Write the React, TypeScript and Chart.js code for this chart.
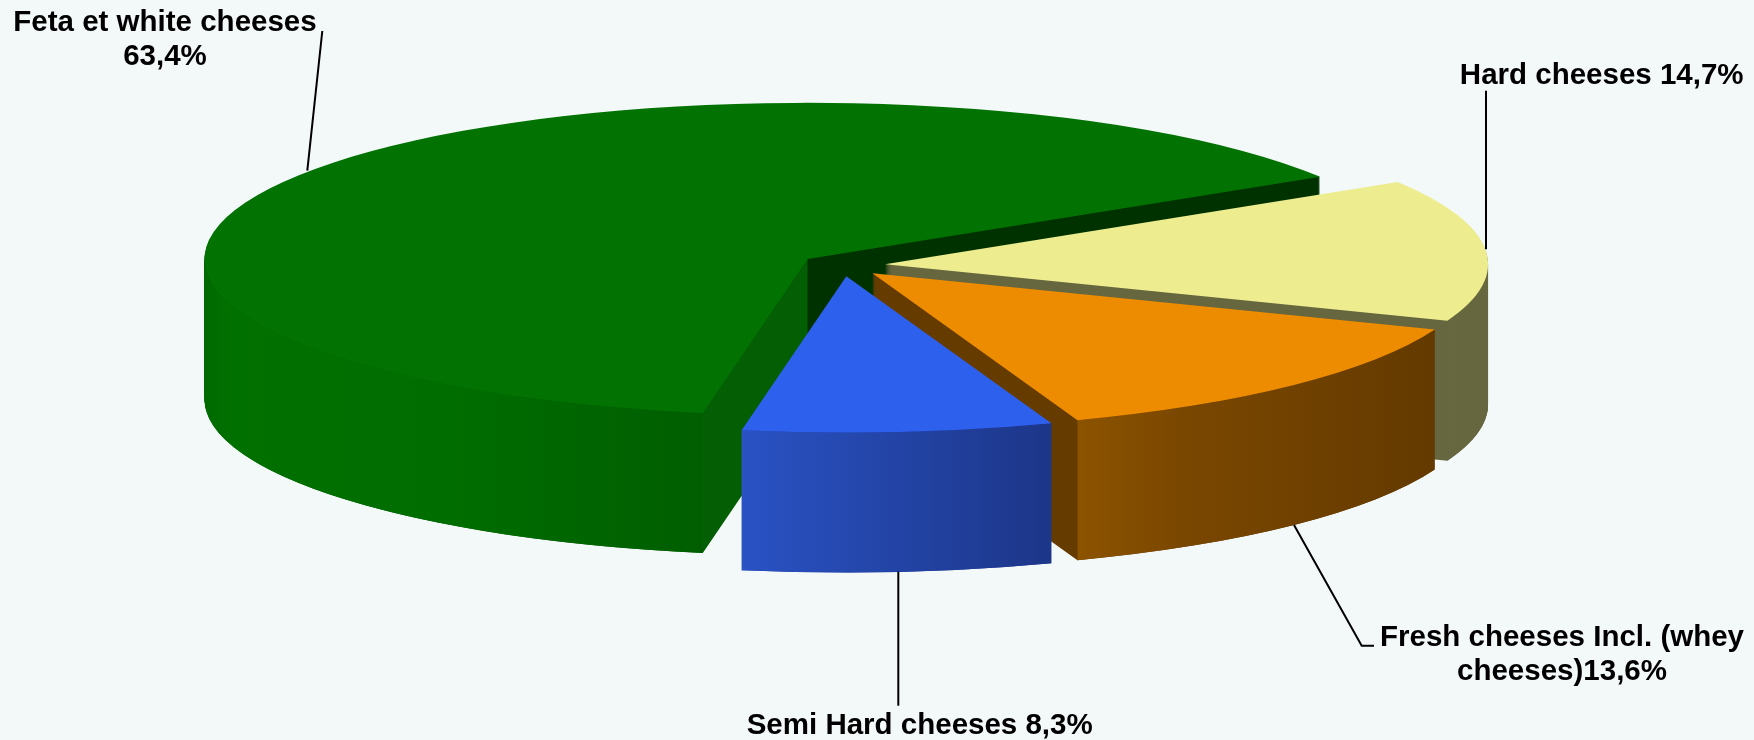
import React, { useEffect, useRef } from 'react';
import { Chart, registerables } from 'chart.js';

Chart.register(...registerables);

// ---- data ----
const CATEGORIES = ['Feta et white cheeses', 'Hard cheeses', 'Fresh cheeses Incl. (whey cheeses)', 'Semi Hard cheeses'];
const SHARES = [63.4, 14.7, 13.6, 8.3];

// ---- styles ----
const TOP_COLORS = ['#027302', '#EDED8F', '#EE8C00', '#2E60EE'];
const FACE_COLORS = [
  ['#045f04', '#003200'],
  ['#66663f', '#66663f'],
  ['#653b00', '#653b00'],
  ['#1e3a9a', '#1e3a9a'],
];
const WALL_STOPS: [number, string][][] = [
  [[0, '#006a00'], [0.05, '#007000'], [0.5, '#006d00'], [1, '#005e00']],
  [[0, '#67683f'], [1, '#66663f']],
  [[0, '#8c5300'], [0.3, '#7a4700'], [1, '#643a00']],
  [[0, '#2a52c4'], [1, '#1c3688']],
];
const BG = '#F3F8F9';
const FONT = 'bold 29.5px "Liberation Sans", Arial, sans-serif';

// ---- projection (relative to the pie radius Chart.js computes) ----
const STRETCH_X = 2.273;
const STRETCH_Y = 0.589;
const EXPLODE_RATIO = 0.0705;
const DEPTH_RATIO = 0.528;

const fmt = (v: number) => v.toFixed(1).replace('.', ',') + '%';

const pie3d = {
  id: 'pie3d',
  beforeDraw(chart: any) {
    const ctx = chart.ctx;
    ctx.save();
    ctx.fillStyle = BG;
    ctx.fillRect(0, 0, chart.width, chart.height);
    ctx.restore();
  },
  beforeDatasetsDraw(chart: any) {
    const ctx = chart.ctx as CanvasRenderingContext2D;
    const arcs = chart.getDatasetMeta(0).data;
    if (!arcs.length) return false;
    const R = arcs[0].outerRadius;
    const rx = R * STRETCH_X;
    const ry = R * STRETCH_Y;
    const depth = Math.round(R * DEPTH_RATIO);
    const ex = R * EXPLODE_RATIO * STRETCH_X;
    const ey = R * EXPLODE_RATIO * STRETCH_X * (ry / rx);
    const slices = arcs.map((arc: any, i: number) => {
      const mid = (arc.startAngle + arc.endAngle) / 2;
      const cx = arc.x + ex * Math.cos(mid);
      const cy = arc.y + ey * Math.sin(mid);
      const g = ctx.createLinearGradient(cx - 0.5, 0, cx + 0.5, 0);
      g.addColorStop(0, FACE_COLORS[i][0]);
      g.addColorStop(1, FACE_COLORS[i][1]);
      return { s: arc.startAngle, e: arc.endAngle, cx, cy, i, face: g };
    });
    ctx.save();
    // extruded body
    for (let d = depth; d >= 1; d--) {
      for (const sl of slices) {
        ctx.beginPath();
        ctx.moveTo(sl.cx, sl.cy + d);
        ctx.ellipse(sl.cx, sl.cy + d, rx, ry, 0, sl.s, sl.e, false);
        ctx.closePath();
        ctx.fillStyle = sl.face;
        ctx.fill();
      }
    }
    // outer front walls
    const TAU = Math.PI * 2;
    for (const sl of slices) {
      for (let k = -1; k <= 1; k++) {
        const a = Math.max(sl.s + TAU * k, 0);
        const b = Math.min(sl.e + TAU * k, Math.PI);
        if (b <= a) continue;
        const xa = sl.cx + rx * Math.cos(a);
        const xb = sl.cx + rx * Math.cos(b);
        const g = ctx.createLinearGradient(Math.min(xa, xb), 0, Math.max(xa, xb), 0);
        for (const [p, c] of WALL_STOPS[sl.i]) g.addColorStop(p, c);
        ctx.beginPath();
        ctx.ellipse(sl.cx, sl.cy, rx, ry, 0, a, b, false);
        ctx.lineTo(xb, sl.cy + ry * Math.sin(b) + depth);
        ctx.ellipse(sl.cx, sl.cy + depth, rx, ry, 0, b, a, true);
        ctx.closePath();
        ctx.fillStyle = g;
        ctx.fill();
      }
    }
    // top faces
    for (const sl of slices) {
      ctx.beginPath();
      ctx.moveTo(sl.cx, sl.cy);
      ctx.ellipse(sl.cx, sl.cy, rx, ry, 0, sl.s, sl.e, false);
      ctx.closePath();
      ctx.fillStyle = TOP_COLORS[sl.i];
      ctx.fill();
    }
    ctx.restore();
    return false;
  },
  afterDraw(chart: any) {
    const ctx = chart.ctx as CanvasRenderingContext2D;
    ctx.save();
    ctx.strokeStyle = '#000';
    ctx.lineWidth = 2;
    const leaders: number[][][] = [
      [[322.3, 31], [307.3, 170.7]],
      [[1486, 90.7], [1486, 249.3]],
      [[1294, 525], [1361.7, 645.7], [1374, 645.7]],
      [[898.3, 571.7], [898.3, 705.7]],
    ];
    for (const pts of leaders) {
      ctx.beginPath();
      ctx.moveTo(pts[0][0], pts[0][1]);
      for (let j = 1; j < pts.length; j++) ctx.lineTo(pts[j][0], pts[j][1]);
      ctx.stroke();
    }
    ctx.fillStyle = '#000';
    ctx.font = FONT;
    ctx.textAlign = 'center';
    ctx.textBaseline = 'alphabetic';
    const labels: [string[], number, number][] = [
      [[CATEGORIES[0], fmt(SHARES[0])], 165, 30.7],
      [[CATEGORIES[1] + ' ' + fmt(SHARES[1])], 1601.7, 84],
      [['Fresh cheeses Incl. (whey', 'cheeses)' + fmt(SHARES[2])], 1562, 645.7],
      [[CATEGORIES[3] + ' ' + fmt(SHARES[3])], 919.7, 734.3],
    ];
    for (const [lines, x, y] of labels) {
      lines.forEach((t, j) => ctx.fillText(t, x, y + j * 34.6));
    }
    ctx.restore();
  },
};

export default function App() {
  const ref = useRef<HTMLCanvasElement>(null);
  useEffect(() => {
    document.body.style.margin = '0';
    document.body.style.background = BG;
    const chart = new Chart(ref.current!, {
      type: 'pie',
      data: {
        labels: CATEGORIES,
        datasets: [{ data: SHARES, backgroundColor: TOP_COLORS, borderWidth: 0 }],
      },
      options: {
        responsive: false,
        animation: false,
        devicePixelRatio: 1,
        rotation: 190,
        layout: { padding: { left: 0, right: 68.6, top: 0, bottom: 209.4 } },
        plugins: { legend: { display: false }, tooltip: { enabled: false } },
        events: [],
      },
      plugins: [pie3d],
    });
    return () => chart.destroy();
  }, []);
  return (
    <div style={{ width: 1754, height: 740 }}>
      <canvas ref={ref} width={1754} height={740} style={{ display: 'block' }} />
    </div>
  );
}
